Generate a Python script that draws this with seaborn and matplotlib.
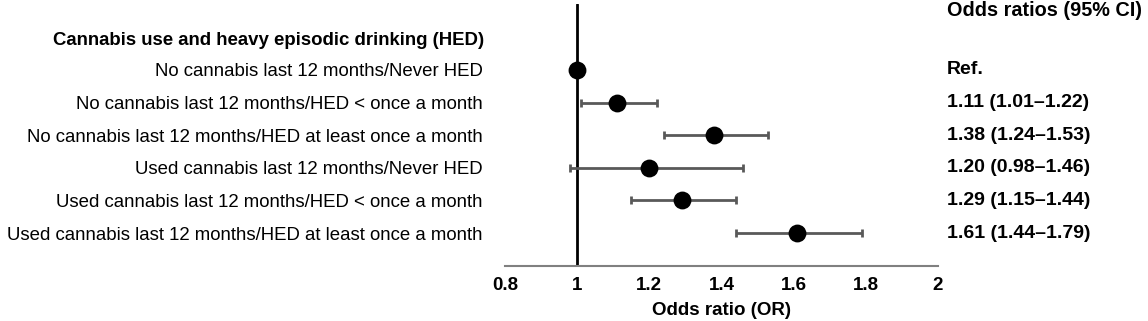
import numpy as np
import pandas as pd
import matplotlib
matplotlib.use("Agg")
import matplotlib.pyplot as plt
import matplotlib.transforms as mtransforms
import seaborn as sns

# Data
groups = [
    "No cannabis last 12 months/Never HED",
    "No cannabis last 12 months/HED < once a month",
    "No cannabis last 12 months/HED at least once a month",
    "Used cannabis last 12 months/Never HED",
    "Used cannabis last 12 months/HED < once a month",
    "Used cannabis last 12 months/HED at least once a month",
]
odds = [1.00, 1.11, 1.38, 1.20, 1.29, 1.61]
ci_low = [np.nan, 1.01, 1.24, 0.98, 1.15, 1.44]
ci_high = [np.nan, 1.22, 1.53, 1.46, 1.44, 1.79]
or_text = ["Ref.", "1.11 (1.01\u20131.22)", "1.38 (1.24\u20131.53)",
           "1.20 (0.98\u20131.46)", "1.29 (1.15\u20131.44)", "1.61 (1.44\u20131.79)"]
x_ticks = [0.8, 1, 1.2, 1.4, 1.6, 1.8, 2]
x_ticklabels = ["0.8", "1", "1.2", "1.4", "1.6", "1.8", "2"]

df = pd.DataFrame({"group": groups, "OR": odds, "lo": ci_low, "hi": ci_high})
df["pos"] = np.arange(len(df))

sns.set_style("white")
plt.rcParams["font.family"] = ["Liberation Sans", "DejaVu Sans"]
plt.rcParams["text.color"] = "black"
plt.rcParams["xtick.color"] = "black"
plt.rcParams["ytick.color"] = "black"
plt.rcParams["axes.labelcolor"] = "black"

fig = plt.figure(figsize=(11.48, 3.21), dpi=100)
ax = fig.add_axes([0.4399, 0.1713, 0.8171 - 0.4399, 0.9875 - 0.1713])

# confidence intervals
ci = df.dropna()
ax.errorbar(ci["OR"], ci["pos"],
            xerr=[ci["OR"] - ci["lo"], ci["hi"] - ci["OR"]],
            fmt="none", ecolor="#595959", elinewidth=2, capsize=3, capthick=2,
            zorder=2)

# reference line
ax.axvline(1, color="black", linewidth=2, zorder=1)

# point estimates
sns.scatterplot(data=df, x="OR", y="pos", color="black", s=165,
                edgecolor="black", linewidth=0, ax=ax, zorder=3, legend=False)

ax.set_xlim(0.8, 2)
ax.set_ylim(6.01, -2.02)
ax.set_xticks(x_ticks)
ax.set_xticklabels(x_ticklabels, fontsize=13.5, fontweight="bold")
ax.set_yticks(df["pos"])
ax.set_yticklabels(groups, fontsize=13.4)
ax.tick_params(axis="y", length=0, pad=16)
ax.tick_params(axis="x", length=0, pad=8)
ax.set_xlabel("Odds ratio (OR)", fontsize=13.5, fontweight="bold", labelpad=6)
ax.set_ylabel("")

for side in ["top", "right", "left"]:
    ax.spines[side].set_visible(False)
ax.spines["bottom"].set_color("#808080")
ax.spines["bottom"].set_linewidth(1.5)

# header for the group labels
trans_left = mtransforms.blended_transform_factory(
    ax.transAxes, ax.transData)
ax.text(-21 / 433, -0.89, "Cannabis use and heavy episodic drinking (HED)",
        transform=trans_left, ha="right", va="center", fontsize=13.4,
        fontweight="bold")

# odds ratio column on the right
ax.text(1 + 9 / 433, -1.81, "Odds ratios (95% CI)", transform=trans_left,
        ha="left", va="center", fontsize=14.3, fontweight="bold")
for p, t in zip(df["pos"], or_text):
    ax.text(1 + 9 / 433, p, t, transform=trans_left, ha="left", va="center",
            fontsize=14, fontweight="bold")

fig.savefig("out.png", dpi=100)
